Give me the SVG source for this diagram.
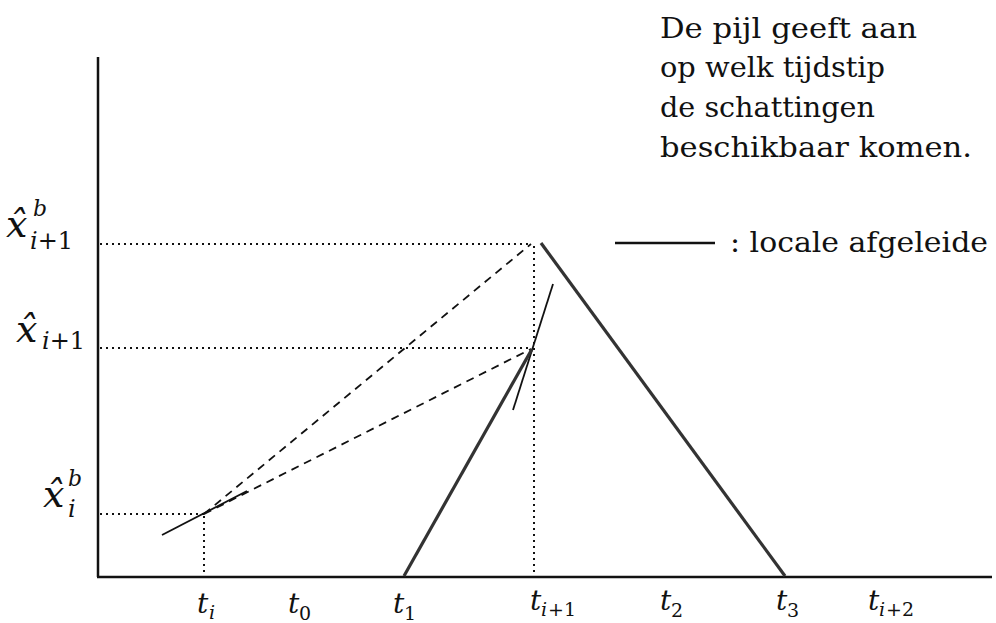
<svg xmlns="http://www.w3.org/2000/svg" width="996" height="623" viewBox="0 0 996 623">
<style>
.ax{stroke:#111;stroke-width:2.5;fill:none}
.dot{stroke:#111;stroke-width:2;stroke-dasharray:2 4;fill:none}
.dash{stroke:#111;stroke-width:1.8;stroke-dasharray:8 6;fill:none}
.thin{stroke:#111;stroke-width:1.8;fill:none}
.thick{stroke:#333;stroke-width:3.2;fill:none}
text{font-family:'DejaVu Serif','Liberation Serif',serif;fill:#111}
.txt{font-size:28px}
.m{font-style:italic;font-size:28px}
.big{font-style:italic;font-size:38px}
.s{font-size:19px;font-style:normal}
.si{font-size:19px;font-style:italic}
.sb{font-size:22px;font-style:italic}
.ls{font-size:24px;font-style:normal}
.lsi{font-size:24px;font-style:italic}
</style>
<rect width="996" height="623" fill="#fff"/>
<g id="axes">
<line class="ax" x1="98" y1="57" x2="98" y2="577"/>
<line class="ax" x1="97" y1="577" x2="992" y2="577"/>
</g>
<g id="connectors">
<line class="dot" x1="100" y1="244" x2="531" y2="244"/>
<line class="dot" x1="100" y1="348" x2="531" y2="348"/>
<line class="dot" x1="100" y1="514" x2="204" y2="514"/>
<line class="dot" x1="204" y1="516" x2="204" y2="575"/>
<line class="dot" x1="534" y1="246" x2="534" y2="575"/>
<line class="dash" x1="204" y1="514" x2="531" y2="244"/>
<line class="dash" x1="204" y1="514" x2="531" y2="349"/>
<line class="thin" x1="162" y1="535" x2="247" y2="491"/>
<line class="thin" x1="513" y1="410" x2="553" y2="284"/>
<line class="thick" x1="404" y1="576" x2="532" y2="349"/>
<line class="thick" x1="541" y1="243" x2="785" y2="576"/>
</g>
<g id="ylabels">
<text class="big" x="6" y="237">x̂<tspan class="sb" x="33" y="216">b</tspan><tspan class="lsi" x="30" y="249">i</tspan><tspan class="ls">+1</tspan></text>
<text class="big" x="16" y="342">x̂<tspan class="lsi" x="42" y="349">i</tspan><tspan class="ls">+1</tspan></text>
<text class="big" x="43" y="507">x̂<tspan class="sb" x="68" y="486">b</tspan><tspan class="lsi" x="68" y="517">i</tspan></text>
</g>
<g id="xlabels">
<text class="m" x="197" y="613">t<tspan class="si" x="209" y="619">i</tspan></text>
<text class="m" x="288" y="613">t<tspan class="s" x="299" y="620">0</tspan></text>
<text class="m" x="393" y="613">t<tspan class="s" x="404" y="620">1</tspan></text>
<text class="m" x="530" y="610">t<tspan class="si" x="541" y="616">i</tspan><tspan class="s" x="548" y="616">+1</tspan></text>
<text class="m" x="660" y="610">t<tspan class="s" x="671" y="617">2</tspan></text>
<text class="m" x="776" y="610">t<tspan class="s" x="787" y="617">3</tspan></text>
<text class="m" x="868" y="610">t<tspan class="si" x="879" y="616">i</tspan><tspan class="s" x="886" y="616">+2</tspan></text>
</g>
<g id="note">
<text class="txt" x="660" y="38" textLength="257" lengthAdjust="spacingAndGlyphs">De pijl geeft aan</text>
<text class="txt" x="660" y="77" textLength="225" lengthAdjust="spacingAndGlyphs">op welk tijdstip</text>
<text class="txt" x="660" y="117" textLength="215" lengthAdjust="spacingAndGlyphs">de schattingen</text>
<text class="txt" x="660" y="157" textLength="312" lengthAdjust="spacingAndGlyphs">beschikbaar komen.</text>
</g>
<g id="legend">
<line x1="615" y1="243" x2="715" y2="243" stroke="#111" stroke-width="2.5"/>
<text class="txt" x="730" y="252" textLength="258" lengthAdjust="spacingAndGlyphs">: locale afgeleide</text>
</g>
</svg>
